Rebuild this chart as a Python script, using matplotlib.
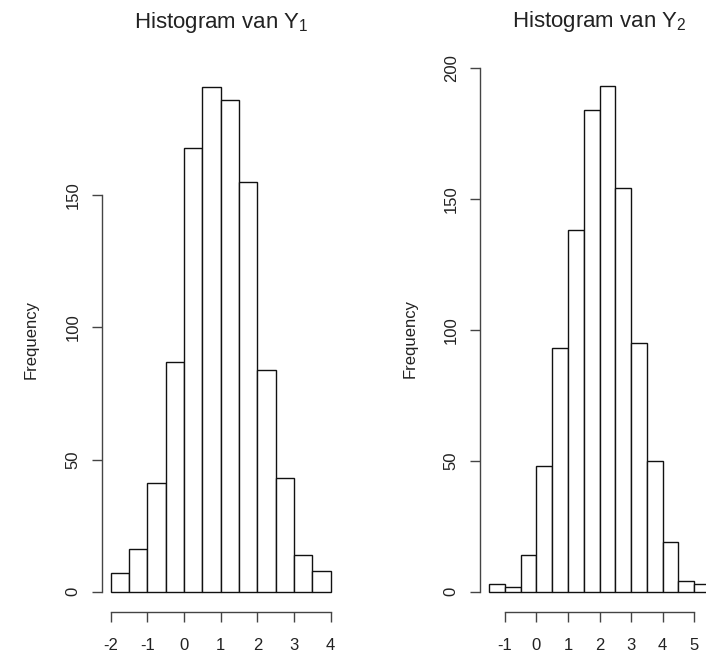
import numpy as np
import matplotlib
matplotlib.use("Agg")
import matplotlib.pyplot as plt

# Histogram counts (bin width 0.5)
y1_edges = [-2.0, -1.5, -1.0, -0.5, 0.0, 0.5, 1.0, 1.5, 2.0, 2.5, 3.0, 3.5, 4.0]
y1_counts = [7, 16, 41, 87, 168, 191, 186, 155, 84, 43, 14, 8]

y2_edges = [-1.5, -1.0, -0.5, 0.0, 0.5, 1.0, 1.5, 2.0, 2.5, 3.0, 3.5, 4.0, 4.5, 5.0, 5.5]
y2_counts = [3, 2, 14, 48, 93, 138, 184, 193, 154, 95, 50, 19, 4, 3]

y1_xticks = [-2, -1, 0, 1, 2, 3, 4]
y1_yticks = [0, 50, 100, 150]
y2_xticks = [-1, 0, 1, 2, 3, 4, 5]
y2_yticks = [0, 50, 100, 150, 200]

plt.rcParams["font.family"] = ["Liberation Sans", "DejaVu Sans"]
plt.rcParams["mathtext.fontset"] = "custom"
plt.rcParams["mathtext.rm"] = "Liberation Sans"

W, H = 706, 664
fig = plt.figure(figsize=(W / 100, H / 100), dpi=100)
fig.patch.set_facecolor("white")


def r_hist(ax, edges, counts, xticks, yticks, title):
    edges = np.asarray(edges)
    counts = np.asarray(counts)
    ax.bar(edges[:-1], counts, width=np.diff(edges), align="edge",
           facecolor="white", edgecolor="#111111", linewidth=1.0)
    # R-style 4% padding
    xr = edges[-1] - edges[0]
    ax.set_xlim(edges[0] - 0.04 * xr, edges[-1] + 0.04 * xr)
    ymax = counts.max()
    ax.set_ylim(-0.04 * ymax, 1.04 * ymax)
    for s in ("top", "right"):
        ax.spines[s].set_visible(False)
    ax.spines["left"].set_bounds(yticks[0], yticks[-1])
    ax.spines["bottom"].set_bounds(xticks[0], xticks[-1])
    for s in ("left", "bottom"):
        ax.spines[s].set_linewidth(1.0)
        ax.spines[s].set_color("#444444")
    ax.set_xticks(xticks)
    ax.set_xticklabels([str(t) for t in xticks])
    ax.set_yticks(yticks)
    ax.set_yticklabels([str(t) for t in yticks], rotation=90, va="center")
    ax.tick_params(direction="out", length=7.5, width=1.0, color="#444444",
                   labelsize=12, labelcolor="#222222")
    ax.tick_params(axis="x", pad=11)
    ax.tick_params(axis="y", pad=8)
    ax.set_ylabel("Frequency", fontsize=12, labelpad=19, color="#222222")
    ax.set_title(title, fontsize=16, pad=28, color="#222222")


def fig_rect(x0, x1, y0, y1):
    return [x0 / W, 1 - y1 / H, (x1 - x0) / W, (y1 - y0) / H]


ax1 = fig.add_axes(fig_rect(102, 339.5, 66.6, 612))
r_hist(ax1, y1_edges, y1_counts, y1_xticks, y1_yticks,
       r"Histogram van $\mathregular{Y_1}$")

ax2 = fig.add_axes(fig_rect(480.4, 718.6, 66, 612))
r_hist(ax2, y2_edges, y2_counts, y2_xticks, y2_yticks,
       r"Histogram van $\mathregular{Y_2}$")

fig.savefig("out.png", dpi=100, facecolor="white")
